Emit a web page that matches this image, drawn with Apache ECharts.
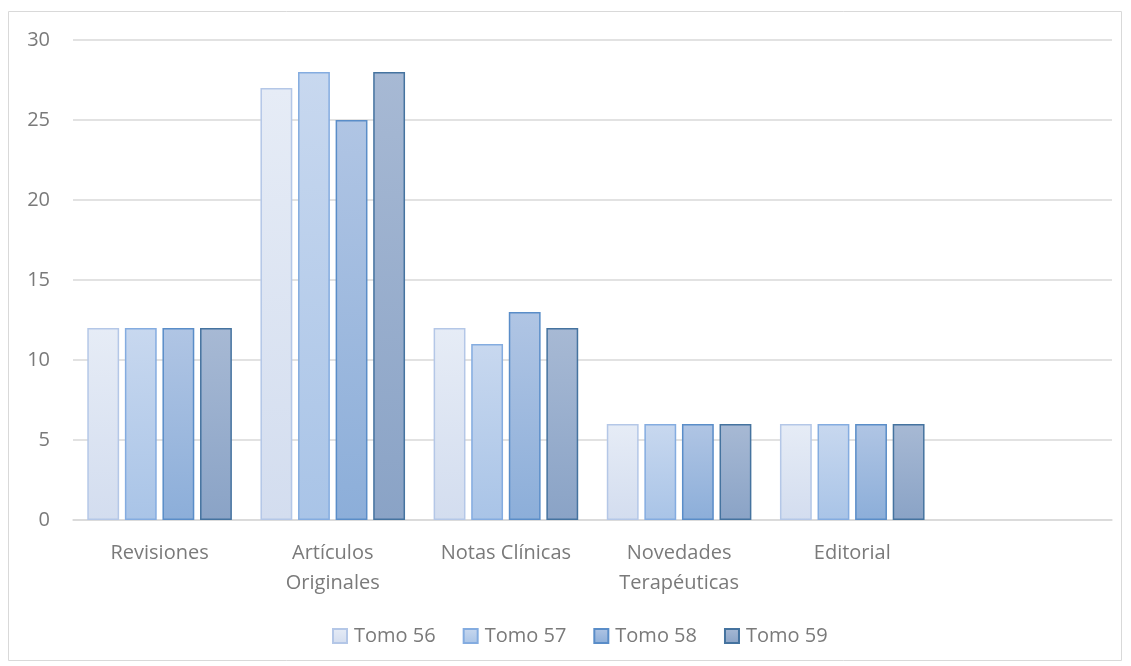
<!DOCTYPE html>
<html>
<head>
<meta charset="utf-8">
<script src="https://cdn.jsdelivr.net/npm/echarts@6/dist/echarts.min.js"></script>
<style>html,body{margin:0;padding:0;background:#fff;}#c{width:1131px;height:666px;}</style>
</head>
<body>
<div id="c"></div>
<script>
var categories = ['Revisiones', 'Artículos\nOriginales', 'Notas Clínicas', 'Novedades\nTerapéuticas', 'Editorial', ''];
var seriesNames = ['Tomo 56', 'Tomo 57', 'Tomo 58', 'Tomo 59'];
var tomo56 = [12, 27, 12, 6, 6, null];
var tomo57 = [12, 28, 11, 6, 6, null];
var tomo58 = [12, 25, 13, 6, 6, null];
var tomo59 = [12, 28, 12, 6, 6, null];
var yTicks = {min: 0, max: 30, interval: 5};

var styles = [
  {top: '#e6ecf6', bottom: '#d3ddef', border: '#b4c7e7'},
  {top: '#c8d8ef', bottom: '#a9c4e7', border: '#84ace0'},
  {top: '#b0c5e4', bottom: '#8caed9', border: '#5a8dc8'},
  {top: '#a7b9d4', bottom: '#8aa3c6', border: '#45739f'}
];
var values = [tomo56, tomo57, tomo58, tomo59];
var textColor = '#7a7a7a';

var series = seriesNames.map(function (n, i) {
  return {
    name: n,
    type: 'bar',
    data: values[i],
    barGap: '18%',
    barCategoryGap: '16.5%',
    itemStyle: {
      color: new echarts.graphic.LinearGradient(0, 0, 0, 1, [
        {offset: 0, color: styles[i].top},
        {offset: 1, color: styles[i].bottom}
      ]),
      borderColor: styles[i].border,
      borderWidth: 1.5
    }
  };
});

var chart = echarts.init(document.getElementById('c'), null, {renderer: 'canvas'});
chart.setOption({
  animation: false,
  textStyle: {fontFamily: 'Open Sans'},
  graphic: [{
    type: 'rect',
    shape: {x: 8.5, y: 11.5, width: 1113, height: 649},
    style: {fill: 'none', stroke: '#d9d9d9', lineWidth: 1},
    silent: true
  }],
  grid: {left: 73, right: 19, top: 40, bottom: 146, containLabel: false},
  legend: {
    data: seriesNames,
    top: 621,
    left: 327,
    padding: 5,
    icon: 'rect',
    itemWidth: 14,
    itemHeight: 14,
    itemGap: 27,
    textStyle: {fontSize: 20, color: textColor, fontFamily: 'Open Sans', padding: [0, 0, 0, 2]}
  },
  xAxis: {
    type: 'category',
    data: categories,
    axisLine: {lineStyle: {color: '#d9d9d9', width: 1.5}},
    axisTick: {show: false},
    axisLabel: {fontSize: 20, color: textColor, margin: 18, lineHeight: 30, interval: 0}
  },
  yAxis: {
    type: 'value',
    min: yTicks.min,
    max: yTicks.max,
    interval: yTicks.interval,
    axisLine: {show: false},
    axisTick: {show: false},
    splitLine: {lineStyle: {color: '#d9d9d9', width: 1.5}},
    axisLabel: {fontSize: 20, color: textColor, margin: 23}
  },
  series: series
});
</script>
</body>
</html>
